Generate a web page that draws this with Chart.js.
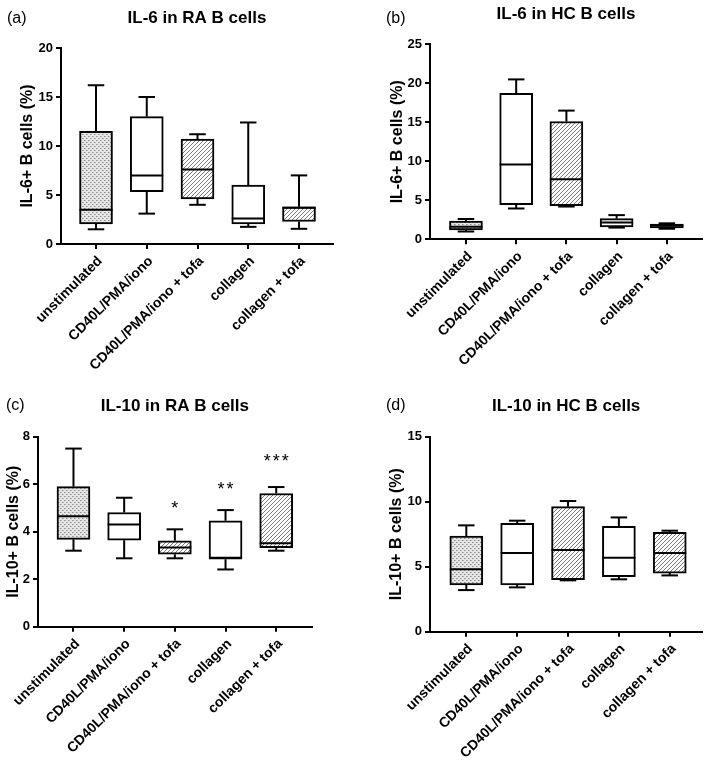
<!DOCTYPE html>
<html><head><meta charset="utf-8">
<script src="https://cdn.jsdelivr.net/npm/chart.js@4.4.1/dist/chart.umd.min.js"></script>
<style>
html,body{margin:0;padding:0;background:#fff;}
body{width:709px;height:764px;position:relative;overflow:hidden;}
canvas{position:absolute;display:block;}
</style></head><body>
<canvas id="cA" width="354" height="380" style="left:0;top:0"></canvas>
<canvas id="cB" width="355" height="380" style="left:354px;top:0"></canvas>
<canvas id="cC" width="354" height="384" style="left:0;top:380px"></canvas>
<canvas id="cD" width="355" height="384" style="left:354px;top:380px"></canvas>
<script>
// ---------- DATA ----------
const categories = ['unstimulated', 'CD40L/PMA/iono', 'CD40L/PMA/iono + tofa', 'collagen', 'collagen + tofa'];
const fillKinds  = ['dots', 'white', 'hatch', 'white', 'hatch'];

// (a) IL-6 in RA B cells
const il6RA_min = [1.5, 3.1, 4.0, 1.75, 1.55];
const il6RA_q1  = [2.05, 5.35, 4.6, 2.05, 2.3];
const il6RA_med = [3.5, 7.0, 7.6, 2.6, 3.7];
const il6RA_q3  = [11.5, 13.0, 10.7, 6.0, 3.8];
const il6RA_max = [16.2, 15.0, 11.2, 12.4, 7.0];
const il6RA_ticks = [0, 5, 10, 15, 20];

// (b) IL-6 in HC B cells
const il6HC_min = [1.0, 3.95, 4.2, 1.5, 1.35];
const il6HC_q1  = [1.2, 4.45, 4.3, 1.6, 1.45];
const il6HC_med = [1.6, 9.6, 7.7, 2.15, 1.75];
const il6HC_q3  = [2.35, 18.7, 15.1, 2.65, 1.95];
const il6HC_max = [2.6, 20.5, 16.5, 3.1, 2.05];
const il6HC_ticks = [0, 5, 10, 15, 20, 25];

// (c) IL-10 in RA B cells
const il10RA_min = [3.2, 2.88, 2.88, 2.41, 3.2];
const il10RA_q1  = [3.68, 3.64, 3.05, 2.84, 3.33];
const il10RA_med = [4.65, 4.3, 3.33, 2.9, 3.51];
const il10RA_q3  = [5.9, 4.81, 3.62, 4.46, 5.61];
const il10RA_max = [7.5, 5.43, 4.1, 4.91, 5.88];
const il10RA_ticks = [0, 2, 4, 6, 8];
const il10RA_sig  = ['', '', '*', '**', '***'];
const il10RA_sigY = [null, null, 5.15, 5.95, 7.15];

// (d) IL-10 in HC B cells
const il10HC_min = [3.2, 3.41, 3.95, 4.03, 4.33];
const il10HC_q1  = [3.59, 3.59, 4.0, 4.23, 4.51];
const il10HC_med = [4.8, 6.05, 6.28, 5.69, 6.05];
const il10HC_q3  = [7.36, 8.33, 9.62, 8.1, 7.64];
const il10HC_max = [8.18, 8.54, 10.05, 8.79, 7.77];
const il10HC_ticks = [0, 5, 10, 15];

// ---------- STYLE ----------
const FONT = "'Liberation Sans', Arial, Helvetica, sans-serif";
Chart.defaults.color = '#000';
Chart.defaults.font.family = FONT;

function makePattern(kind) {
  if (kind === 'white') return '#ffffff';
  const t = document.createElement('canvas');
  const g = t.getContext('2d');
  if (kind === 'dots') {
    t.width = 4; t.height = 4;
    g.fillStyle = '#e6e6e6'; g.fillRect(0, 0, 4, 4);
    g.fillStyle = '#8c8c8c';
    g.fillRect(0, 0, 1, 1); g.fillRect(2, 2, 1, 1);
    g.fillStyle = '#b4b4b4';
    g.fillRect(1, 0, 1, 1); g.fillRect(3, 2, 1, 1);
  } else {
    t.width = 4; t.height = 4;
    g.fillStyle = '#ffffff'; g.fillRect(0, 0, 4, 4);
    g.strokeStyle = '#7a7a7a'; g.lineWidth = 1;
    g.beginPath();
    g.moveTo(-1, 5); g.lineTo(5, -1);
    g.moveTo(-1, 1); g.lineTo(1, -1);
    g.moveTo(3, 5); g.lineTo(5, 3);
    g.stroke();
  }
  return g.createPattern(t, 'repeat');
}

const boxPlugin = {
  id: 'boxWhisker',
  afterDatasetsDraw(chart, args, o) {
    const {ctx} = chart;
    const x = chart.scales.x, y = chart.scales.y;
    const meta = chart.getDatasetMeta(0);
    const ds = chart.data.datasets[0].data;
    ctx.save();
    ctx.strokeStyle = '#000'; ctx.lineWidth = 2; ctx.lineCap = 'butt';
    const line = (x1, y1, x2, y2) => { ctx.beginPath(); ctx.moveTo(x1, y1); ctx.lineTo(x2, y2); ctx.stroke(); };
    o.med.forEach((m, i) => {
      const bar = meta.data[i];
      const cx = x.getPixelForValue(ds[i].x);
      const half = bar.width / 2;
      const cap = half * 0.5;
      const pMin = y.getPixelForValue(o.min[i]);
      const pMax = y.getPixelForValue(o.max[i]);
      const pQ1 = y.getPixelForValue(ds[i].y[0]);
      const pQ3 = y.getPixelForValue(ds[i].y[1]);
      const pMed = y.getPixelForValue(m);
      line(cx, pQ3, cx, pMax);
      line(cx, pQ1, cx, pMin);
      line(cx - cap, pMax, cx + cap, pMax);
      line(cx - cap, pMin, cx + cap, pMin);
      line(cx - half, pMed, cx + half, pMed);
    });
    if (o.sig) {
      ctx.fillStyle = '#000';
      ctx.font = '18px ' + FONT;
      ctx.textAlign = 'center';
      ctx.textBaseline = 'alphabetic';
      o.sig.forEach((s, i) => {
        if (!s) return;
        const cx = x.getPixelForValue(i);
        const py = y.getPixelForValue(o.sigY[i]) + 10;
        const n = s.length;
        for (let k = 0; k < n; k++) {
          ctx.fillText('*', cx + (k - (n - 1) / 2) * 9, py);
        }
      });
    }
    ctx.restore();
  }
};

const headPlugin = {
  id: 'panelHead',
  afterDraw(chart, args, o) {
    const {ctx, chartArea} = chart;
    ctx.save();
    ctx.fillStyle = '#000';
    ctx.textBaseline = 'alphabetic';
    ctx.font = '16px ' + FONT;
    ctx.textAlign = 'left';
    ctx.fillText(o.letter, o.letterX, o.letterY);
    ctx.font = 'bold 17px ' + FONT;
    ctx.textAlign = 'center';
    ctx.fillText(o.title, (chartArea.left + chartArea.right) / 2 + (o.titleDx || 0), o.titleY);
    ctx.restore();
  }
};

function makeChart(id, p) {
  const data = categories.map((c, i) => ({x: i, y: [p.q1[i], p.q3[i]]}));
  new Chart(document.getElementById(id), {
    type: 'bar',
    data: {
      datasets: [{
        data: data,
        backgroundColor: fillKinds.map(makePattern),
        borderColor: '#000',
        borderWidth: 2,
        borderSkipped: false,
        barThickness: 33
      }]
    },
    options: {
      responsive: false,
      animation: false,
      events: [],
      layout: {padding: {top: p.padTop, right: p.padRight, left: 0, bottom: 0}},
      plugins: {
        legend: {display: false},
        tooltip: {enabled: false},
        title: {display: false},
        boxWhisker: {min: p.min, med: p.med, max: p.max, sig: p.sig, sigY: p.sigY},
        panelHead: {letter: p.letter, letterX: p.letterX, letterY: p.letterY, title: p.title, titleY: p.titleY}
      },
      scales: {
        x: {
          type: 'linear',
          min: p.xMin, max: p.xMax,
          offset: false,
          grid: {display: true, offset: false, drawOnChartArea: false, drawTicks: true, tickLength: 5, lineWidth: 2, color: '#000'},
          border: {display: true, color: '#000', width: 2},
          afterBuildTicks: s => { s.ticks = categories.map((c, i) => ({value: i})); },
          afterFit: s => { s.height = p.xH; },
          ticks: {
            autoSkip: false, maxRotation: 45, minRotation: 45, padding: 4, labelOffset: 4,
            font: {size: 14, weight: 'bold'}, color: '#000',
            callback: v => categories[v] !== undefined ? categories[v] : ''
          }
        },
        y: {
          min: 0, max: p.ticks[p.ticks.length - 1],
          afterBuildTicks: s => { s.ticks = p.ticks.map(v => ({value: v})); },
          afterFit: s => { s.width = p.yW; },
          grid: {display: true, drawOnChartArea: false, drawTicks: true, tickLength: 5, lineWidth: 2, color: '#000'},
          border: {display: true, color: '#000', width: 2},
          ticks: {font: {size: 13, weight: 'bold'}, color: '#000', padding: 3},
          title: {display: true, text: p.yTitle, font: {size: 16, weight: 'bold'}, color: '#000', padding: {top: p.yTitlePad, bottom: 0}}
        }
      }
    },
    plugins: [boxPlugin, headPlugin]
  });
}

makeChart('cA', {
  min: il6RA_min, q1: il6RA_q1, med: il6RA_med, q3: il6RA_q3, max: il6RA_max, ticks: il6RA_ticks,
  xMin: -0.69, xMax: 4.67, padTop: 48, padRight: 21, xH: 136, yW: 61, yTitlePad: 18,
  yTitle: 'IL-6+ B cells (%)', letter: '(a)', letterX: 7, letterY: 23, title: 'IL-6 in RA B cells', titleY: 23
});
makeChart('cB', {
  min: il6HC_min, q1: il6HC_q1, med: il6HC_med, q3: il6HC_q3, max: il6HC_max, ticks: il6HC_ticks,
  xMin: -0.716, xMax: 4.70, padTop: 44.3, padRight: 7, xH: 140.7, yW: 76, yTitlePad: 34,
  yTitle: 'IL-6+ B cells (%)', letter: '(b)', letterX: 32, letterY: 23, title: 'IL-6 in HC B cells', titleY: 19
});
makeChart('cC', {
  min: il10RA_min, q1: il10RA_q1, med: il10RA_med, q3: il10RA_q3, max: il10RA_max, ticks: il10RA_ticks,
  sig: il10RA_sig, sigY: il10RA_sigY,
  xMin: -0.70, xMax: 4.70, padTop: 56.7, padRight: 42.3, xH: 137.3, yW: 38, yTitlePad: 4,
  yTitle: 'IL-10+ B cells (%)', letter: '(c)', letterX: 6, letterY: 30, title: 'IL-10 in RA B cells', titleY: 31
});
makeChart('cD', {
  min: il10HC_min, q1: il10HC_q1, med: il10HC_med, q3: il10HC_q3, max: il10HC_max, ticks: il10HC_ticks,
  xMin: -0.714, xMax: 4.64, padTop: 56.7, padRight: 6.7, xH: 132.3, yW: 76, yTitlePad: 33,
  yTitle: 'IL-10+ B cells (%)', letter: '(d)', letterX: 32, letterY: 30, title: 'IL-10 in HC B cells', titleY: 31
});
</script>
</body></html>
